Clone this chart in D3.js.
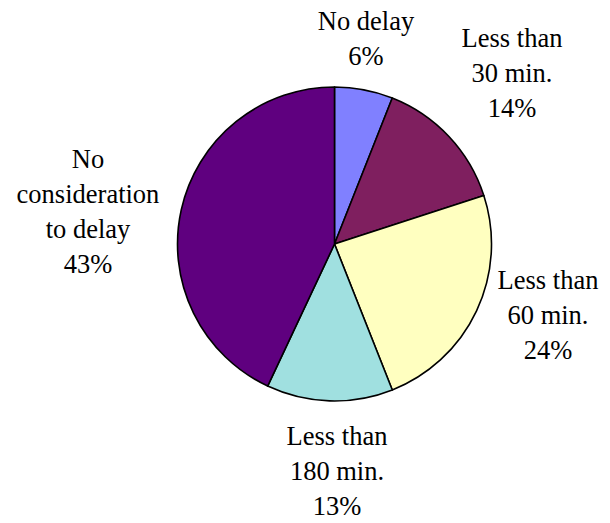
<!DOCTYPE html>
<html>
<head>
<meta charset="utf-8">
<script src="https://cdn.jsdelivr.net/npm/d3@7"></script>
<style>
  html, body { margin: 0; padding: 0; background: #ffffff; }
  svg { display: block; }
  .lbl { font-family: "DejaVu Serif", serif; }
</style>
</head>
<body>
<svg id="chart" width="610" height="523"></svg>
<script>
// Share of respondents by acceptable delay
const categories = ["No delay", "Less than 30 min.", "Less than 60 min.", "Less than 180 min.", "No consideration to delay"];
const values = [6, 14, 24, 13, 43];
const colors = ["#8080FF", "#7F1F5F", "#FFFFC0", "#A0E0E0", "#5F007F"];
// Multi-line label text for each slice (percent line appended from the values)
const labelLines = [
  ["No delay"],
  ["Less than", "30 min."],
  ["Less than", "60 min."],
  ["Less than", "180 min."],
  ["No", "consideration", "to delay"]
];
// Label anchor points (centre x, first baseline y)
const labelPos = [
  [366, 30],
  [512, 47],
  [548, 289],
  [337, 445],
  [88, 168]
];

const svg = d3.select("#chart");
const cx = 334.5, cy = 244, r = 157;

const pie = d3.pie().sort(null).value(d => d)(values);
const arc = d3.arc().innerRadius(0).outerRadius(r);

const g = svg.append("g").attr("transform", `translate(${cx},${cy})`);
g.selectAll("path")
  .data(pie)
  .join("path")
  .attr("d", arc)
  .attr("fill", (d, i) => colors[i])
  .attr("stroke", "#000")
  .attr("stroke-width", 1.6)
  .attr("stroke-linejoin", "round");

const lineH = 35;
const labels = svg.selectAll("text.lbl")
  .data(pie)
  .join("text")
  .attr("class", "lbl")
  .attr("text-anchor", "middle")
  .style("font-family", "'Liberation Serif', 'DejaVu Serif', serif")
  .style("font-size", "26.5px")
  .attr("fill", "#000")
  .attr("x", (d, i) => labelPos[i][0])
  .attr("y", (d, i) => labelPos[i][1]);

labels.each(function(d, i) {
  const t = d3.select(this);
  const lines = labelLines[i].concat([d.data + "%"]);
  lines.forEach((s, k) => {
    t.append("tspan")
      .attr("x", labelPos[i][0])
      .attr("dy", k === 0 ? 0 : lineH)
      .text(s);
  });
});
</script>
</body>
</html>
